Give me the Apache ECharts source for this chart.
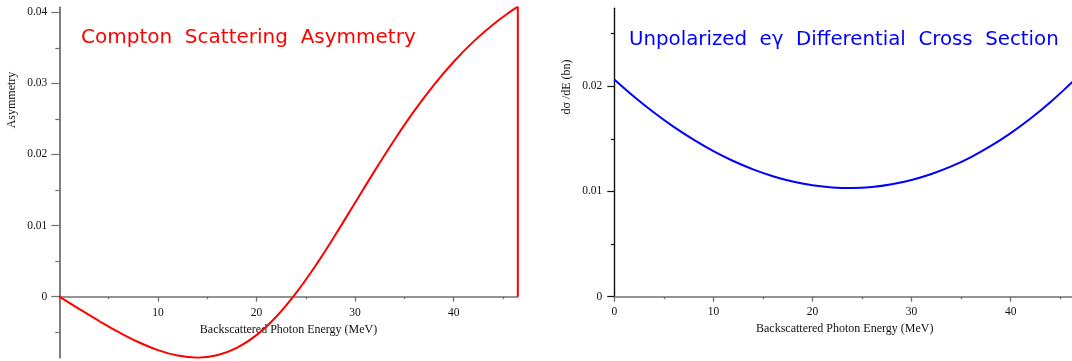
<!DOCTYPE html>
<html>
<head>
<meta charset="utf-8">
<script src="https://cdn.jsdelivr.net/npm/echarts@6/dist/echarts.min.js"></script>
<style>
  html, body { margin: 0; padding: 0; background: #fff; }
  #chart { width: 1072px; height: 361px; }
</style>
</head>
<body>
<div id="chart"></div>
<script>
// Backscattered photon energy samples (MeV)
const energies = [0, 2, 4, 6, 8, 10, 12, 14, 16, 18, 20, 22, 24, 26, 28, 30, 32, 34, 36, 38, 40, 42, 44, 46, 46.5];
// Compton scattering asymmetry at each energy
const asymmetry = [0, -0.00172, -0.00339, -0.00497, -0.00638, -0.00752, -0.00829, -0.00858, -0.00825, -0.00721,
  -0.00541, -0.00282, 0.00050, 0.00439, 0.00870, 0.01322, 0.01773, 0.02208, 0.02613, 0.02979,
  0.03304, 0.03587, 0.03829, 0.04034, 0.04080];
// Unpolarized e-gamma differential cross section (bn) at each energy
const crossSection = [0.02064, 0.01900, 0.01750, 0.01614, 0.01492, 0.01383, 0.01289, 0.01210, 0.01145, 0.01094,
  0.01059, 0.01038, 0.01033, 0.01042, 0.01068, 0.01109, 0.01166, 0.01238, 0.01327, 0.01432,
  0.01554, 0.01693, 0.01848, 0.02020, 0.02066];

// Tick positions
const xMajorLeft = [10, 20, 30, 40];
const xMajorRight = [0, 10, 20, 30, 40];
const xMinor = [5, 15, 25, 35, 45];
const yMajorLeft = [0, 0.01, 0.02, 0.03, 0.04];
const yMinorLeft = [-0.005, 0.005, 0.015, 0.025, 0.035];
const yMajorRight = [0, 0.01, 0.02];
const yMinorRight = [0.005, 0.015, 0.025];

const xMax = 46.5;
const serif = 'Liberation Serif';
const sans = 'DejaVu Sans';

const pairs = (xs, ys) => xs.map((x, i) => [x, ys[i]]);
const lastE = energies[energies.length - 1];
const lastA = asymmetry[asymmetry.length - 1];

// The left x axis sits on y = 0 inside its grid; its labels and title are
// offset back up from the grid's lower edge to sit just under that line.
function majorX(gridIndex, ticks, lineColor, nameText, labelMargin, nameGap) {
  return {
    type: 'value', gridIndex, position: 'bottom', min: 0, max: xMax,
    axisLine: { show: true, onZero: true, lineStyle: { color: lineColor, width: 1.6 } },
    axisTick: { show: true, customValues: ticks, length: 5, lineStyle: { color: lineColor, width: 1.3 } },
    axisLabel: { show: true, customValues: ticks, margin: labelMargin, color: '#111', fontFamily: serif, fontSize: 11.5 },
    splitLine: { show: false },
    name: nameText, nameLocation: 'middle', nameGap,
    nameTextStyle: { color: '#111', fontFamily: serif, fontSize: 12 }
  };
}
function minorX(gridIndex, lineColor) {
  return {
    type: 'value', gridIndex, position: 'bottom', min: 0, max: xMax,
    axisLine: { show: false, onZero: true },
    axisTick: { show: true, customValues: xMinor, length: 2.5, lineStyle: { color: lineColor, width: 1.3 } },
    axisLabel: { show: false }, splitLine: { show: false }
  };
}
function majorY(gridIndex, min, max, ticks, lineColor, lineWidth, tickLen) {
  return {
    type: 'value', gridIndex, position: 'left', min, max,
    axisLine: { show: true, onZero: false, lineStyle: { color: lineColor, width: lineWidth } },
    axisTick: { show: true, customValues: ticks, length: tickLen, lineStyle: { color: lineColor, width: 1.2 } },
    axisLabel: { show: true, customValues: ticks, margin: 12, color: '#111', fontFamily: serif, fontSize: 11.5 },
    splitLine: { show: false }
  };
}
function minorY(gridIndex, min, max, ticks, lineColor, tickLen) {
  return {
    type: 'value', gridIndex, position: 'left', min, max,
    axisLine: { show: false, onZero: false },
    axisTick: { show: true, customValues: ticks, length: tickLen, lineStyle: { color: lineColor, width: 1.2 } },
    axisLabel: { show: false }, splitLine: { show: false }
  };
}

const chart = echarts.init(document.getElementById('chart'), null, { renderer: 'canvas' });
chart.setOption({
  backgroundColor: '#ffffff',
  animation: false,
  title: [
    { text: 'Compton  Scattering  Asymmetry', left: 81, top: 28,
      textStyle: { color: '#ff0000', fontFamily: sans, fontSize: 20, fontWeight: 'normal' }, padding: 0 },
    { text: 'Unpolarized  e\u03b3  Differential  Cross  Section', left: 629, top: 30,
      textStyle: { color: '#0000ff', fontFamily: sans, fontSize: 19.8, fontWeight: 'normal' }, padding: 0 }
  ],
  grid: [
    { left: 59.3, top: 7.3, width: 458.5, height: 350.5, containLabel: false, outerBoundsMode: 'none' },
    { left: 614.3, top: 8.3, width: 460.8, height: 288.4, containLabel: false, outerBoundsMode: 'none' }
  ],
  xAxis: [
    majorX(0, xMajorLeft, '#707070', 'Backscattered Photon Energy (MeV)', -50.8, -40),
    majorX(1, xMajorRight, '#707070', 'Backscattered Photon Energy (MeV)', 9, 20),
    minorX(0, '#707070'),
    minorX(1, '#707070')
  ],
  yAxis: [
    majorY(0, -0.0086, 0.0407, yMajorLeft, '#707070', 1.8, 8),
    majorY(1, 0, 0.0274, yMajorRight, '#111111', 1.4, 7),
    minorY(0, -0.0086, 0.0407, yMinorLeft, '#707070', 4),
    minorY(1, 0, 0.0274, yMinorRight, '#111111', 3.5)
  ],
  graphic: [
    { type: 'text', x: 12, y: 100, rotation: Math.PI / 2,
      style: { text: 'Asymmetry', align: 'center', verticalAlign: 'middle', fill: '#111', font: '12px "Liberation Serif"' } },
    { type: 'text', x: 566.5, y: 87, rotation: Math.PI / 2,
      style: { text: 'd\u03c3 /dE (bn)', align: 'center', verticalAlign: 'middle', fill: '#111', font: '12px "Liberation Serif"' } }
  ],
  series: [
    { type: 'line', xAxisIndex: 0, yAxisIndex: 0, data: pairs(energies, asymmetry), smooth: 0.4,
      showSymbol: false, lineStyle: { color: '#ff0000', width: 2 }, z: 5 },
    { type: 'line', xAxisIndex: 0, yAxisIndex: 0, data: [[lastE, lastA], [lastE, 0]],
      showSymbol: false, lineStyle: { color: '#ff0000', width: 2 }, z: 5 },
    { type: 'line', xAxisIndex: 1, yAxisIndex: 1, data: pairs(energies, crossSection), smooth: 0.4,
      showSymbol: false, lineStyle: { color: '#0000ff', width: 2 }, z: 5 }
  ]
});
</script>
</body>
</html>
